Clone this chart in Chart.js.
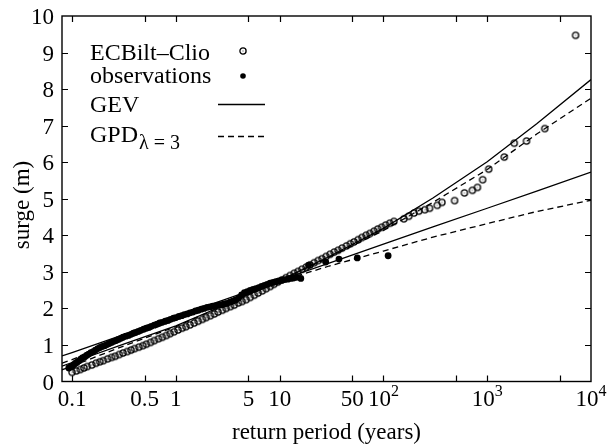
<!DOCTYPE html>
<html>
<head>
<meta charset="utf-8">
<script src="https://cdn.jsdelivr.net/npm/chart.js@4"></script>
<style>
  html, body { margin: 0; padding: 0; background: #fff; }
  canvas { display: block; }
</style>
</head>
<body>
<canvas id="chart" width="609" height="447"></canvas>
<script>
// ECBilt-Clio simulated surges (return period in years, surge in m)
const modelPeriod = [0.1, 0.11, 0.12, 0.13, 0.14, 0.155, 0.17, 0.185, 0.2, 0.22, 0.24, 0.26, 0.285, 0.31, 0.34, 0.37, 0.4, 0.44, 0.48,
  0.52, 0.57, 0.62, 0.68, 0.74, 0.81, 0.88, 0.96, 1.05, 1.15, 1.25, 1.37, 1.5, 1.64, 1.8, 1.96, 2.15, 2.35, 2.55, 2.8, 3.05, 3.35,
  3.65, 4.0, 4.35, 4.75, 5.2, 5.7, 6.2, 6.8, 7.4, 8.1, 8.8, 9.6, 10.5, 11.5, 12.6, 13.8, 15, 16.4, 18, 19.6, 21.5, 23.5, 25.6, 28,
  30.6, 33.5, 36.6, 40, 44, 48, 52, 57, 62, 68, 74, 81, 88, 96, 105, 115, 126, 157, 175, 197, 219, 250, 278, 330, 366, 484, 603,
  719, 804, 903, 1032, 1459, 1820, 2390, 3580, 7100];
const modelSurge = [0.25, 0.29, 0.33, 0.37, 0.41, 0.45, 0.50, 0.54, 0.57, 0.62, 0.66, 0.69, 0.74, 0.78, 0.82, 0.86, 0.90, 0.94, 0.98,
  1.02, 1.07, 1.12, 1.17, 1.21, 1.26, 1.31, 1.36, 1.41, 1.46, 1.50, 1.55, 1.60, 1.65, 1.70, 1.75, 1.80, 1.85, 1.90, 1.95, 2.00, 2.05,
  2.09, 2.15, 2.19, 2.24, 2.30, 2.36, 2.42, 2.48, 2.54, 2.60, 2.66, 2.72, 2.78, 2.84, 2.90, 2.96, 3.01, 3.07, 3.13, 3.19, 3.25, 3.31, 3.36, 3.42,
  3.48, 3.54, 3.59, 3.65, 3.71, 3.77, 3.82, 3.88, 3.94, 4.00, 4.05, 4.11, 4.17, 4.22, 4.28, 4.33, 4.38, 4.45, 4.52, 4.61, 4.66, 4.70, 4.74, 4.82, 4.90, 4.95, 5.16,
  5.23, 5.31, 5.52, 5.81, 6.14, 6.52, 6.58, 6.92, 9.47];

// observed surges
const obsPeriod = [0.093, 0.097, 0.1, 0.104, 0.108, 0.112, 0.117, 0.122, 0.127, 0.133, 0.139, 0.145, 0.152, 0.16, 0.168, 0.177, 0.186,
  0.196, 0.206, 0.217, 0.228, 0.24, 0.253, 0.266, 0.28, 0.295, 0.31, 0.33, 0.35, 0.37, 0.39, 0.41, 0.435, 0.46, 0.49, 0.52, 0.55, 0.58,
  0.62, 0.66, 0.7, 0.74, 0.79, 0.84, 0.89, 0.95, 1.0, 1.07, 1.14, 1.21, 1.29, 1.37, 1.46, 1.55, 1.65, 1.76, 1.87, 2.0, 2.13, 2.27, 2.42,
  2.58, 2.75, 2.93, 3.12, 3.33, 3.55, 3.78, 4.03, 4.3, 4.58, 4.88, 5.2, 5.55, 5.9, 6.3, 6.7, 7.15, 7.6, 8.1, 8.65, 9.2, 9.8, 10.5, 11.2,
  12, 12.8, 13.6, 14.5, 16, 19, 27.8, 37.3, 56, 111];
const obsSurge = [0.37, 0.40, 0.42, 0.46, 0.50, 0.53, 0.57, 0.62, 0.65, 0.68, 0.72, 0.75, 0.79, 0.82, 0.86, 0.90, 0.93,
  0.96, 0.98, 1.01, 1.04, 1.07, 1.10, 1.12, 1.15, 1.18, 1.21, 1.24, 1.26, 1.29, 1.32, 1.34, 1.37, 1.40, 1.43, 1.46, 1.48, 1.51,
  1.54, 1.57, 1.60, 1.62, 1.65, 1.67, 1.70, 1.73, 1.75, 1.78, 1.80, 1.83, 1.85, 1.88, 1.90, 1.93, 1.95, 1.98, 2.00, 2.03, 2.04, 2.06, 2.07,
  2.09, 2.10, 2.12, 2.14, 2.17, 2.20, 2.23, 2.29, 2.37, 2.43, 2.46, 2.49, 2.52, 2.54, 2.57, 2.60, 2.63, 2.66, 2.69, 2.71, 2.73, 2.75, 2.77, 2.79,
  2.80, 2.82, 2.83, 2.85, 2.82, 3.18, 3.27, 3.35, 3.38, 3.44];

// fitted return level curves
const fitPeriod = [0.08, 0.1, 0.3, 1, 3, 10, 30, 100, 300, 1000, 3000, 10000];
const gevModel = [0.42, 0.52, 1.0, 1.52, 2.1, 2.76, 3.42, 4.19, 5.02, 6.01, 7.05, 8.26];
const gpdModel = [0.32, 0.42, 0.95, 1.5, 2.1, 2.75, 3.4, 4.13, 4.9, 5.8, 6.77, 7.75];
const gevObs = [0.70, 0.79, 1.26, 1.78, 2.25, 2.77, 3.24, 3.76, 4.23, 4.74, 5.21, 5.73];
const gpdObs = [0.50, 0.60, 1.14, 1.68, 2.19, 2.74, 3.16, 3.57, 3.95, 4.32, 4.65, 4.96];

// axis ticks
const xTickMarks = [0.1, 0.5, 1, 5, 10, 50, 100, 500, 1000, 5000];
const xTickValues = [0.1, 0.5, 1, 5, 10, 50, 100, 1000, 10000];
const xTickLabels = ['0.1', '0.5', '1', '5', '10', '50', '10^2', '10^3', '10^4'];
const yTickValues = [0, 1, 2, 3, 4, 5, 6, 7, 8, 9, 10];

const SERIF = '"Liberation Serif", "Times New Roman", serif';

function pairs(xs, ys) {
  return xs.map((x, i) => ({ x: x, y: ys[i] }));
}

function ringImage() {
  const c = document.createElement('canvas');
  c.width = 10; c.height = 10;
  const g = c.getContext('2d');
  g.strokeStyle = '#000';
  g.lineWidth = 1.3;
  g.beginPath();
  g.arc(5, 5, 3.1, 0, Math.PI * 2);
  g.stroke();
  g.fillStyle = '#444';
  g.fillRect(4.5, 4.5, 1, 1);
  return c;
}
const ring = ringImage();

const decorations = {
  id: 'decorations',
  afterDatasetsDraw(chart) {
    const ctx = chart.ctx;
    const a = chart.chartArea;
    const xs = chart.scales.x, ys = chart.scales.y;
    ctx.save();
    ctx.strokeStyle = '#000';
    ctx.fillStyle = '#000';
    ctx.lineWidth = 1.4;
    ctx.strokeRect(a.left, a.top, a.right - a.left, a.bottom - a.top);

    // inward ticks
    ctx.lineWidth = 1.2;
    ctx.beginPath();
    xTickMarks.forEach(v => {
      const px = Math.round(xs.getPixelForValue(v)) + 0.5;
      ctx.moveTo(px, a.bottom); ctx.lineTo(px, a.bottom - 6);
      ctx.moveTo(px, a.top); ctx.lineTo(px, a.top + 6);
    });
    yTickValues.slice(1, -1).forEach(v => {
      const py = Math.round(ys.getPixelForValue(v)) + 0.5;
      ctx.moveTo(a.left, py); ctx.lineTo(a.left + 6, py);
      ctx.moveTo(a.right, py); ctx.lineTo(a.right - 6, py);
    });
    ctx.stroke();

    // tick labels
    ctx.font = '23px ' + SERIF;
    ctx.textBaseline = 'alphabetic';
    ctx.textAlign = 'right';
    yTickValues.forEach(v => {
      ctx.fillText(String(v), a.left - 8, ys.getPixelForValue(v) + 8);
    });
    ctx.textAlign = 'left';
    xTickValues.forEach((v, i) => {
      const parts = xTickLabels[i].split('^');
      const px = xs.getPixelForValue(v);
      ctx.font = '23px ' + SERIF;
      const w0 = ctx.measureText(parts[0]).width;
      let w1 = 0;
      if (parts[1]) { ctx.font = '16px ' + SERIF; w1 = ctx.measureText(parts[1]).width; }
      const start = px - (w0 + w1) / 2;
      ctx.font = '23px ' + SERIF;
      ctx.fillText(parts[0], start, a.bottom + 24);
      if (parts[1]) {
        ctx.font = '16px ' + SERIF;
        ctx.fillText(parts[1], start + w0, a.bottom + 14);
      }
    });

    // axis titles
    ctx.font = '23px ' + SERIF;
    ctx.textAlign = 'center';
    ctx.fillText('return period (years)', (a.left + a.right) / 2, 439);
    ctx.save();
    ctx.translate(29, 205);
    ctx.rotate(-Math.PI / 2);
    ctx.fillText('surge (m)', 0, 0);
    ctx.restore();

    // legend
    ctx.textAlign = 'left';
    ctx.font = '24px ' + SERIF;
    ctx.fillText('ECBilt\u2013Clio', 90, 60);
    ctx.fillText('observations', 90, 83);
    ctx.fillText('GEV', 90, 112);
    ctx.fillText('GPD', 90, 142);
    const wg = ctx.measureText('GPD').width;
    ctx.font = '20px ' + SERIF;
    ctx.fillText('\u03bb = 3', 90 + wg + 1, 149);
    ctx.drawImage(ring, 243 - 5, 51 - 5);
    ctx.beginPath();
    ctx.arc(243, 76, 2.8, 0, Math.PI * 2);
    ctx.fill();
    ctx.lineWidth = 1.3;
    ctx.beginPath();
    ctx.moveTo(218, 104.5); ctx.lineTo(265, 104.5);
    ctx.stroke();
    ctx.setLineDash([6, 4]);
    ctx.beginPath();
    ctx.moveTo(218, 136.5); ctx.lineTo(265, 136.5);
    ctx.stroke();
    ctx.restore();
  }
};

function fitLine(ys, dashed, order) {
  return {
    data: pairs(fitPeriod, ys),
    showLine: true,
    borderColor: '#000',
    borderWidth: 1.3,
    borderDash: dashed ? [6, 4] : [],
    pointRadius: 0,
    fill: false,
    tension: 0,
    order: order
  };
}

new Chart(document.getElementById('chart'), {
  type: 'scatter',
  data: {
    datasets: [
      {
        label: 'observations',
        data: pairs(obsPeriod, obsSurge),
        pointStyle: 'circle',
        pointRadius: 3.4,
        backgroundColor: '#000',
        borderWidth: 0,
        order: 1
      },
      {
        label: 'ECBilt\u2013Clio',
        data: pairs(modelPeriod, modelSurge),
        pointStyle: ring,
        pointRadius: 3,
        order: 2
      },
      fitLine(gevModel, false, 3),
      fitLine(gpdModel, true, 4),
      fitLine(gevObs, false, 5),
      fitLine(gpdObs, true, 6)
    ]
  },
  options: {
    responsive: false,
    animation: false,
    devicePixelRatio: 1,
    layout: { padding: { left: 62, right: 18, top: 16, bottom: 65.5 } },
    plugins: { legend: { display: false }, tooltip: { enabled: false } },
    scales: {
      x: { type: 'logarithmic', min: 0.08, max: 10000, display: false },
      y: { type: 'linear', min: 0, max: 10, display: false }
    }
  },
  plugins: [decorations]
});
</script>
</body>
</html>
